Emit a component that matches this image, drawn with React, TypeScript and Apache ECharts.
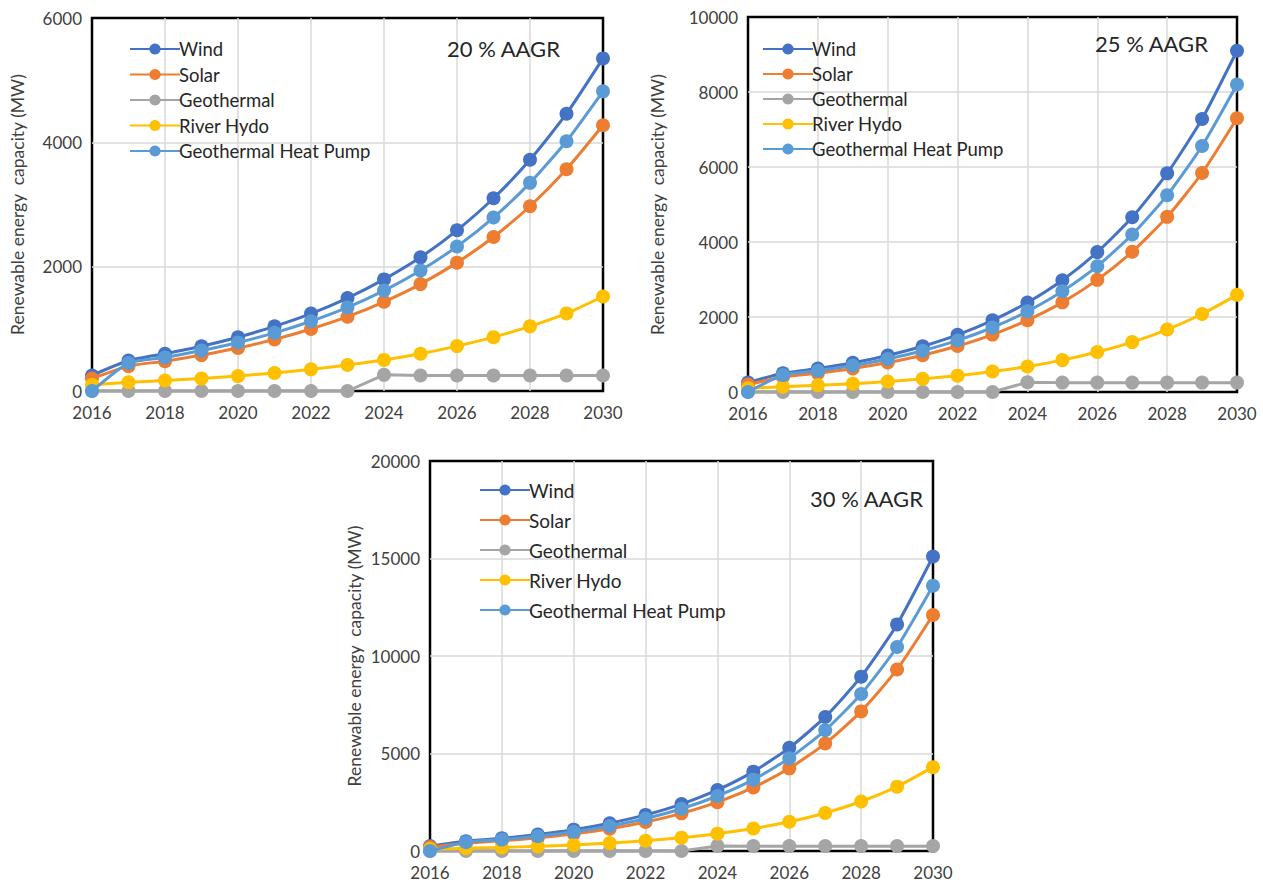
import React, { useEffect, useRef } from "react";
import * as echarts from "echarts";

const years = [2016, 2017, 2018, 2019, 2020, 2021, 2022, 2023, 2024, 2025, 2026, 2027, 2028, 2029, 2030];
const seriesNames = ["Wind", "Solar", "Geothermal", "River Hydo", "Geothermal Heat Pump"];
const seriesColors = ["#4472C4", "#ED7D31", "#A5A5A5", "#FFC000", "#5B9BD5"];
const panelLabels = ["20 % AAGR", "25 % AAGR", "30 % AAGR"];
const yMax = [6000, 10000, 20000];
const yStep = [2000, 2000, 5000];
const yTitle = "Renewable energy  capacity (MW)";

// 20 % AAGR
const wind20 = [250, 490, 600, 720, 865, 1040, 1245, 1495, 1795, 2150, 2585, 3100, 3720, 4460, 5350];
const solar20 = [200, 400, 480, 578, 692, 830, 998, 1195, 1435, 1720, 2065, 2478, 2972, 3568, 4275];
const geo20 = [0, 0, 0, 0, 0, 0, 0, 0, 260, 250, 250, 250, 250, 250, 250];
const hydro20 = [100, 140, 168, 200, 240, 290, 348, 418, 500, 600, 722, 866, 1040, 1248, 1520];
const ghp20 = [0, 450, 540, 650, 780, 935, 1122, 1345, 1615, 1938, 2325, 2790, 3348, 4018, 4820];

// 25 % AAGR
const wind25 = [250, 500, 625, 780, 975, 1220, 1525, 1910, 2385, 2980, 3730, 4660, 5830, 7280, 9100];
const solar25 = [200, 400, 500, 625, 785, 980, 1225, 1530, 1915, 2390, 2990, 3740, 4670, 5840, 7300];
const geo25 = [0, 0, 0, 0, 0, 0, 0, 0, 260, 250, 250, 250, 250, 250, 250];
const hydro25 = [100, 140, 178, 222, 278, 350, 436, 545, 680, 850, 1065, 1330, 1665, 2080, 2590];
const ghp25 = [0, 450, 565, 705, 880, 1100, 1375, 1720, 2150, 2685, 3355, 4200, 5245, 6560, 8200];

// 30 % AAGR
const wind30 = [250, 500, 650, 845, 1095, 1425, 1850, 2405, 3130, 4070, 5290, 6875, 8940, 11620, 15100];
const solar30 = [200, 400, 520, 675, 880, 1140, 1485, 1930, 2505, 3260, 4240, 5510, 7160, 9310, 12100];
const geo30 = [0, 0, 0, 0, 0, 0, 0, 0, 260, 250, 250, 250, 250, 250, 250];
const hydro30 = [100, 140, 185, 240, 310, 405, 525, 685, 890, 1155, 1500, 1950, 2540, 3300, 4300];
const ghp30 = [0, 450, 585, 760, 985, 1280, 1665, 2165, 2820, 3660, 4760, 6190, 8050, 10460, 13600];

const panels = [
  [wind20, solar20, geo20, hydro20, ghp20],
  [wind25, solar25, geo25, hydro25, ghp25],
  [wind30, solar30, geo30, hydro30, ghp30],
];

const FONT = "Lato, 'Open Sans', sans-serif";

export default function App() {
  const ref = useRef<HTMLDivElement>(null);
  useEffect(() => {
    if (!ref.current) return;
    const chart = echarts.init(ref.current, undefined, { renderer: "svg" });

    const grids = [
      { left: 92, top: 18, width: 511, height: 373 },
      { left: 748, top: 17, width: 489, height: 375 },
      { left: 430, top: 461, width: 503, height: 390 },
    ];
    const nameGaps = [66, 82, 67];
    const legendPos = [
      { left: 124, top: 34, gap: 5.5, font: 18.5 },
      { left: 757, top: 34, gap: 5, font: 18.5 },
      { left: 474, top: 475, gap: 10, font: 19 },
    ];
    const labelPos = [
      { x: 447, y: 50 },
      { x: 1095, y: 45 },
      { x: 810, y: 500 },
    ];

    const split = {
      show: true,
      showMinLine: false,
      showMaxLine: false,
      lineStyle: { color: "#d9d9d9", width: 1.5 },
    };

    const xAxes = grids.map((_, i) => ({
      type: "value",
      gridIndex: i,
      min: 2016,
      max: 2030,
      interval: 2,
      axisLine: { show: false },
      axisTick: { show: false },
      axisLabel: {
        formatter: (v: number) => String(v),
        fontFamily: FONT,
        fontSize: 17,
        color: "#404040",
        margin: 13,
      },
      splitLine: split,
    }));
    const yAxes = grids.map((_, i) => ({
      type: "value",
      gridIndex: i,
      min: 0,
      max: yMax[i],
      interval: yStep[i],
      axisLine: { show: false },
      axisTick: { show: false },
      axisLabel: {
        formatter: (v: number) => String(v),
        fontFamily: FONT,
        fontSize: 17,
        color: "#404040",
        margin: 10,
      },
      splitLine: split,
      name: yTitle,
      nameLocation: "middle",
      nameGap: nameGaps[i],
      nameTextStyle: { fontFamily: FONT, fontSize: 17.5, color: "#404040" },
    }));

    const series: any[] = [];
    panels.forEach((arrs, p) => {
      arrs.forEach((vals, s) => {
        series.push({
          type: "line",
          name: seriesNames[s],
          xAxisIndex: p,
          yAxisIndex: p,
          data: years.map((y, k) => [y, vals[k]]),
          smooth: s === 2 ? false : 0.2,
          symbol: "circle",
          symbolSize: 14,
          itemStyle: { color: seriesColors[s] },
          lineStyle: { color: seriesColors[s], width: 3 },
          z: 2 + s,
        });
      });
    });

    const legends = legendPos.map((l) => ({
      orient: "vertical",
      left: l.left,
      top: l.top,
      itemWidth: 50,
      itemHeight: 14,
      itemGap: l.gap,
      data: seriesNames,
      selectedMode: false,
      textStyle: {
        fontFamily: FONT,
        fontSize: l.font,
        lineHeight: 20,
        color: "#262626",
        padding: [0, 0, 0, -6],
      },
    }));

    const graphics = labelPos.map((pos, i) => ({
      type: "text",
      left: pos.x,
      top: pos.y - 13,
      style: { text: panelLabels[i], fontFamily: FONT, fontSize: 22, fill: "#262626" },
      z: 100,
    }));

    chart.setOption({
      animation: false,
      backgroundColor: "#ffffff",
      grid: grids.map((g) => ({ ...g, show: true, borderColor: "#000", borderWidth: 2.5, backgroundColor: "transparent" })),
      xAxis: xAxes,
      yAxis: yAxes,
      legend: legends,
      series,
      graphic: graphics,
    });
    return () => chart.dispose();
  }, []);

  return (
    <div
      ref={ref}
      style={{ position: "absolute", left: 0, top: 0, width: 1263, height: 890 }}
    />
  );
}
